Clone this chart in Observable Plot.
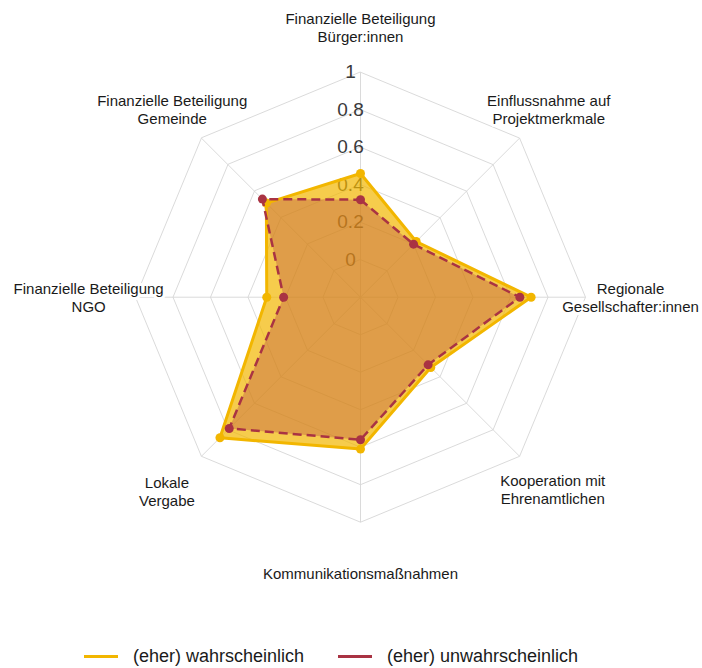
<!DOCTYPE html>
<html><head><meta charset="utf-8">
<script src="https://cdn.jsdelivr.net/npm/d3@7"></script>
<script src="https://cdn.jsdelivr.net/npm/@observablehq/plot@0.6"></script>
<style>
body{margin:0;background:#fff;font-family:"Liberation Sans",Arial,sans-serif;}
#wrap{position:relative;width:702px;height:668px;}
#legend{position:absolute;top:644px;left:0;width:702px;height:24px;font-size:18px;color:#1a1a1a;white-space:nowrap;}
.sw{position:absolute;top:11px;width:34px;height:0;border-top:3px solid;}
.lab{position:absolute;top:0;line-height:24px;}
</style></head><body>
<div id="wrap"><div id="chart"></div><div id="legend"></div></div>
<script>
const categories = ["Finanzielle Beteiligung\nBürger:innen", "Einflussnahme auf\nProjektmerkmale", "Regionale\nGesellschafter:innen", "Kooperation mit\nEhrenamtlichen", "Kommunikationsmaßnahmen", "Lokale\nVergabe", "Finanzielle Beteiligung\nNGO", "Finanzielle Beteiligung\nGemeinde"];
const wahrscheinlich = [0.46, 0.22, 0.71, 0.33, 0.61, 0.86, 0.30, 0.51];
const unwahrscheinlich = [0.32, 0.20, 0.65, 0.31, 0.56, 0.79, 0.21, 0.54];
const tickValues = [0, 0.2, 0.4, 0.6, 0.8, 1];
const tickLabels = ["0", "0.2", "0.4", "0.6", "0.8", "1"];
const seriesNames = ["(eher) wahrscheinlich", "(eher) unwahrscheinlich"];
const seriesColors = ["#F2B600", "#A93343"];

const inner = 0.2;      // radial offset of value 0
const labelR = [1.44, 1.42, 1.44, 1.45, 1.47, 1.46, 1.45, 1.42];  // radius of category labels
const n = categories.length;
const ang = i => i * 2 * Math.PI / n;
const px = (i, v) => (inner + v) * Math.sin(ang(i));
const py = (i, v) => (inner + v) * Math.cos(ang(i));

const rings = tickValues.flatMap(t => categories.map((c, i) => ({ring: t, x: px(i, t), y: py(i, t)})));
const spokes = categories.map((c, i) => ({x1: 0, y1: 0, x2: px(i, 1), y2: py(i, 1)}));
const ticks = tickValues.map((t, k) => ({x: 0, y: inner + t, label: tickLabels[k]}));
const labels = categories.map((c, i) => ({x: labelR[i] * Math.sin(ang(i)), y: labelR[i] * Math.cos(ang(i)), label: c}));
const s1 = wahrscheinlich.map((v, i) => ({x: px(i, v), y: py(i, v)}));
const s2 = unwahrscheinlich.map((v, i) => ({x: px(i, v), y: py(i, v)}));

const W = 702, H = 630, cx = 360, cy = 296.7, unit = 187.5;
const chart = Plot.plot({
  width: W, height: H, margin: 0,
  x: {domain: [-cx / unit, (W - cx) / unit], axis: null},
  y: {domain: [-(H - cy) / unit, cy / unit], axis: null},
  style: {fontFamily: "'Liberation Sans', Arial, sans-serif", background: "#fff"},
  marks: [
    Plot.line(rings, {x: "x", y: "y", z: "ring", curve: "linear-closed", stroke: "#d6d6d6", strokeWidth: 0.9}),
    Plot.link(spokes, {x1: "x1", y1: "y1", x2: "x2", y2: "y2", stroke: "#d6d6d6", strokeWidth: 0.9}),
    Plot.text(ticks, {x: "x", y: "y", text: "label", dx: -10, fontSize: 19, fill: "#3a3a3a", textAnchor: "middle"}),
    Plot.line(s1, {x: "x", y: "y", curve: "linear-closed", fill: seriesColors[0], fillOpacity: 0.7, stroke: "none"}),
    Plot.line(s2, {x: "x", y: "y", curve: "linear-closed", fill: seriesColors[1], fillOpacity: 0.3, stroke: "none"}),
    Plot.line(s1, {x: "x", y: "y", curve: "linear-closed", stroke: seriesColors[0], strokeWidth: 3}),
    Plot.dot(s1, {x: "x", y: "y", r: 4.5, fill: seriesColors[0], stroke: "none"}),
    Plot.line(s2, {x: "x", y: "y", curve: "linear-closed", stroke: seriesColors[1], strokeWidth: 2.5, strokeDasharray: "9,5", strokeLinecap: "butt"}),
    Plot.dot(s2, {x: "x", y: "y", r: 4.5, fill: seriesColors[1], stroke: "none"}),
    Plot.text(labels, {x: "x", y: "y", text: "label", fontSize: 15, lineHeight: 1.2, fill: "#1a1a1a", textAnchor: "middle", stroke: "white", strokeWidth: 6})
  ]
});
document.getElementById("chart").appendChild(chart);

const legendX = [[84, 133], [338, 387]];
const leg = document.getElementById("legend");
seriesNames.forEach((s, k) => {
  const sw = document.createElement("span"); sw.className = "sw"; sw.style.borderTopColor = seriesColors[k]; sw.style.left = legendX[k][0] + "px";
  const lb = document.createElement("span"); lb.className = "lab"; lb.textContent = s; lb.style.left = legendX[k][1] + "px";
  leg.appendChild(sw); leg.appendChild(lb);
});
</script>
</body></html>
